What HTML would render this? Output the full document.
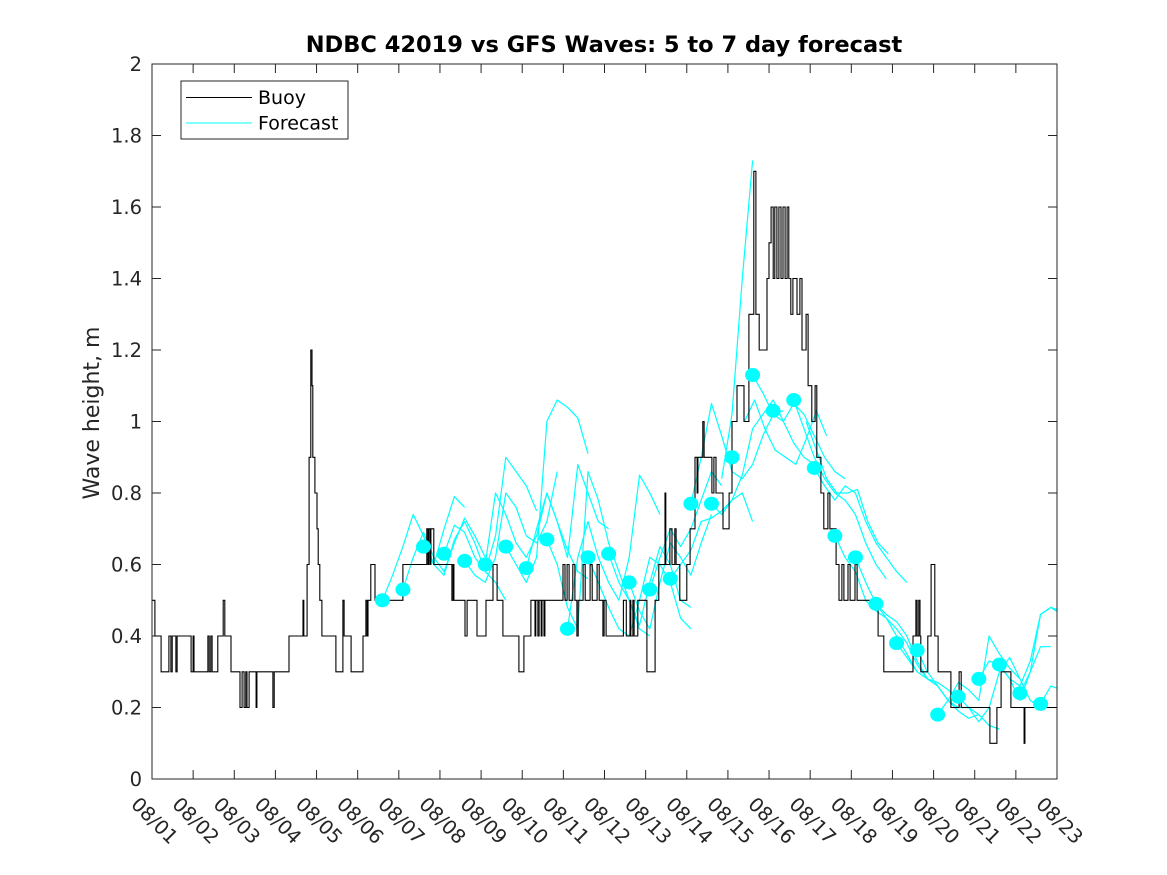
<!DOCTYPE html>
<html><head><meta charset="utf-8"><style>
html,body{margin:0;padding:0;background:#fff;}
svg{display:block;font-family:"DejaVu Sans","Liberation Sans",sans-serif;}
</style></head><body>
<svg id="chart" width="1167" height="875" viewBox="0 0 1167 875" xmlns="http://www.w3.org/2000/svg">
<defs><clipPath id="plotclip"><rect x="152" y="64" width="905" height="715"/></clipPath></defs>
<rect x="0" y="0" width="1167" height="875" fill="#fff"/>
<text x="604" y="52" text-anchor="middle" font-size="22.5" font-weight="bold" fill="#000">NDBC 42019 vs GFS Waves: 5 to 7 day forecast</text>
<text transform="translate(99,413) rotate(-90)" text-anchor="middle" font-size="22" fill="#262626">Wave height, m</text>
<g id="grid"></g>
<g id="series" clip-path="url(#plotclip)"></g>
<rect x="152" y="64" width="905" height="715" fill="none" stroke="#262626" stroke-width="1"/>
<g>
<rect x="181" y="81" width="167" height="58" fill="#fff" stroke="#262626" stroke-width="1"/>
<line x1="186" y1="97.5" x2="252" y2="97.5" stroke="#000" stroke-width="1"/>
<text x="258" y="104" font-size="19" fill="#000">Buoy</text>
<line x1="186" y1="123" x2="252" y2="123" stroke="#00ffff" stroke-width="1"/>
<text x="258" y="129.5" font-size="19" fill="#000">Forecast</text>
</g>
</svg>
<script>
const xTickLabels = ["08/01","08/02","08/03","08/04","08/05","08/06","08/07","08/08","08/09","08/10","08/11","08/12","08/13","08/14","08/15","08/16","08/17","08/18","08/19","08/20","08/21","08/22","08/23"];
const yTicks = [0,0.2,0.4,0.6,0.8,1,1.2,1.4,1.6,1.8,2];
const yTickLabels = ["0","0.2","0.4","0.6","0.8","1","1.2","1.4","1.6","1.8","2"];
// buoy step series: day since 08/01, value
const buoyDays = [0,0.07,0.22,0.41,0.46,0.49,0.58,0.61,0.95,1.00,1.02,1.36,1.39,1.43,1.46,1.60,1.73,1.77,1.92,2.14,2.19,2.24,2.28,2.31,2.36,2.53,2.55,2.94,2.97,3.33,3.67,3.69,3.77,3.82,3.86,3.89,3.91,3.96,4.01,4.04,4.08,4.13,4.47,4.64,4.67,4.84,5.13,5.20,5.23,5.25,5.32,5.42,6.10,6.68,6.71,6.73,6.76,6.78,6.85,7.29,7.32,7.34,7.61,7.66,7.90,8.12,8.29,8.39,8.53,8.92,9.04,9.21,9.31,9.33,9.38,9.41,9.46,9.48,9.53,9.55,9.99,10.04,10.09,10.14,10.23,10.28,10.33,10.36,10.48,10.53,10.65,10.70,10.82,10.87,10.96,10.99,11.04,11.46,11.53,11.62,11.64,11.69,11.72,11.81,12.03,12.23,12.32,12.47,12.49,12.59,12.64,12.71,12.74,12.83,13.00,13.08,13.20,13.25,13.27,13.39,13.42,13.61,13.66,13.71,13.88,14.03,14.10,14.22,14.39,14.51,14.63,14.68,14.76,14.95,15.00,15.05,15.10,15.14,15.19,15.24,15.29,15.34,15.39,15.44,15.48,15.53,15.58,15.68,15.75,15.80,15.90,15.95,16.04,16.12,16.16,16.26,16.33,16.43,16.48,16.63,16.70,16.77,16.82,16.92,16.97,17.09,17.14,17.65,17.79,18.50,18.57,18.60,18.64,18.67,18.69,18.86,18.94,19.03,19.11,19.42,19.62,19.67,20.37,20.54,20.64,20.88,21.20,21.22,22.0];
const buoyValues = [0.5,0.4,0.3,0.4,0.3,0.4,0.3,0.4,0.3,0.4,0.3,0.4,0.3,0.4,0.3,0.4,0.5,0.4,0.3,0.2,0.3,0.2,0.3,0.2,0.3,0.2,0.3,0.2,0.3,0.4,0.5,0.4,0.6,0.9,1.2,1.1,0.9,0.8,0.7,0.6,0.5,0.4,0.3,0.5,0.4,0.3,0.4,0.5,0.4,0.5,0.6,0.5,0.6,0.7,0.6,0.7,0.6,0.7,0.6,0.5,0.6,0.5,0.4,0.5,0.4,0.5,0.6,0.5,0.4,0.3,0.4,0.5,0.4,0.5,0.4,0.5,0.4,0.5,0.4,0.5,0.6,0.5,0.6,0.5,0.6,0.5,0.4,0.5,0.6,0.5,0.6,0.5,0.6,0.5,0.4,0.5,0.4,0.5,0.4,0.5,0.4,0.5,0.4,0.5,0.3,0.5,0.6,0.8,0.6,0.7,0.6,0.7,0.6,0.5,0.6,0.7,0.9,0.8,0.9,1.0,0.9,0.8,0.9,0.8,0.7,0.8,1.0,1.1,1.0,1.3,1.7,1.3,1.2,1.4,1.5,1.6,1.4,1.6,1.4,1.6,1.4,1.6,1.4,1.6,1.4,1.3,1.4,1.3,1.4,1.2,1.3,1.1,1.0,1.1,0.9,0.8,0.7,0.8,0.7,0.6,0.5,0.6,0.5,0.6,0.5,0.6,0.5,0.4,0.3,0.4,0.5,0.4,0.5,0.4,0.3,0.4,0.6,0.4,0.3,0.2,0.3,0.2,0.1,0.2,0.3,0.2,0.1,0.2,0.2];
// forecast dots (every 0.5 day starting at day 5.6)
const dotStart = 5.6;
const dotValues = [0.50,0.53,0.65,0.63,0.61,0.60,0.65,0.59,0.67,0.42,0.62,0.63,0.55,0.53,0.56,0.77,0.77,0.90,1.13,1.03,1.06,0.87,0.68,0.62,0.49,0.38,0.36,0.18,0.23,0.28,0.32,0.24,0.21];
// forecast lines: start day, values every 6 hours
const fcStarts = [5.6,6.1,6.6,7.1,7.6,8.1,8.6,9.1,9.6,10.1,10.6,11.1,11.6,12.1,12.6,13.1,13.6,13.85,14.6,14.4,15.6,16.1,15.9,16.6,17.1,17.6,18.1,18.6,19.1,19.6,20.1,20.6,21.1,21.6];
const fcValues = [
[0.50,0.57,0.65,0.74,0.68,0.60,0.70,0.79,0.76],
[0.53,0.62,0.69,0.62,0.58,0.66,0.73,0.68,0.62],
[0.65,0.60,0.57,0.67,0.72,0.66,0.58,0.55,0.50],
[0.63,0.71,0.69,0.62,0.58,0.68,0.90,0.86,0.82,0.75],
[0.61,0.57,0.55,0.62,0.80,0.76,0.68,0.66,0.72,0.86],
[0.60,0.80,0.74,0.66,0.62,0.68,0.80,0.72,0.64,0.58,0.56],
[0.65,0.60,0.55,0.62,1.00,1.06,1.04,1.01,0.91],
[0.59,0.70,0.80,0.72,0.62,0.88,0.80,0.72,0.70],
[0.67,0.60,0.48,0.42,0.86,0.78,0.66,0.58,0.50,0.42,0.40],
[0.42,0.62,0.72,0.62,0.55,0.50,0.62,0.85,0.80,0.74],
[0.62,0.55,0.48,0.42,0.40,0.50,0.62,0.60,0.55,0.45,0.42],
[0.63,0.55,0.50,0.43,0.55,0.65,0.60,0.50,0.48],
[0.55,0.47,0.42,0.55,0.66,0.62,0.57,0.66,0.74],
[0.53,0.62,0.70,0.65,0.70,0.78,0.86,0.82],
[0.56,0.60,0.64,0.72,0.73,0.75,0.78,0.80,0.72],
[0.77,0.90,1.05,0.96,0.86,0.84,0.88,0.96,1.02,1.03],
[0.77,0.74,0.78,0.85,0.98,1.02,1.06,1.00,0.94,0.90,0.88],
[0.84,1.02,1.40,1.73],
[1.13,1.08,1.02,1.00,1.05,1.02,0.96,0.90,0.86,0.84],
[1.00,1.06,0.98,0.92,0.90,0.88,0.95,1.03,0.96],
[1.06,0.98,0.90,0.84,0.80,0.78,0.74,0.66,0.60,0.56],
[0.87,0.82,0.78,0.82,0.80,0.72,0.66,0.62,0.58,0.55],
[1.00,0.92,0.84,0.80,0.80,0.81,0.72,0.66,0.63],
[0.68,0.62,0.58,0.50,0.47,0.45,0.40,0.35,0.30],
[0.62,0.55,0.49,0.46,0.44,0.40,0.33,0.28,0.26],
[0.49,0.45,0.42,0.38,0.32,0.28,0.27,0.25,0.22],
[0.38,0.34,0.30,0.28,0.26,0.22,0.19,0.17,0.18],
[0.36,0.30,0.26,0.22,0.20,0.20,0.18,0.15,0.14],
[0.18,0.22,0.27,0.25,0.22,0.40,0.35,0.31,0.28],
[0.23,0.20,0.16,0.20,0.30,0.34,0.28,0.22,0.20],
[0.28,0.33,0.32,0.28,0.26,0.33,0.46,0.48,0.47],
[0.32,0.28,0.22,0.30,0.46,0.48,0.46,0.44,0.33],
[0.24,0.30,0.37,0.37],
[0.21,0.26,0.25]
];
const NS = "http://www.w3.org/2000/svg";
const X0 = 152, X1 = 1057, Y0 = 779, Y1 = 64, DAYS = 22, VMAX = 2;
function xScale(d){ return X0 + d * (X1 - X0) / DAYS; }
function yScale(v){ return Y0 - v * (Y0 - Y1) / VMAX; }
function mk(tag, attrs, parent){ const e = document.createElementNS(NS, tag); for (const k in attrs) e.setAttribute(k, attrs[k]); parent.appendChild(e); return e; }
const grid = document.getElementById("grid");
const series = document.getElementById("series");
xTickLabels.forEach((lab, i) => {
  const x = xScale(i);
  const t1 = mk("line", {x1:x, y1:Y0, x2:x, y2:Y0-9, stroke:"#262626"}, grid);
  
  
  const t2 = mk("line", {x1:x, y1:Y1, x2:x, y2:Y1+9, stroke:"#262626"}, grid);
  
  
  const tx = mk("text", {transform:"translate(" + (x-22) + "," + (Y0+26.5) + ") rotate(45)", "font-size":"19.5", fill:"#262626"}, grid);
  tx.textContent = lab;
  
  
});
yTicks.forEach((v, i) => {
  const y = yScale(v);
  const t1 = mk("line", {x1:X0, y1:y, x2:X0+9, y2:y, stroke:"#262626"}, grid);
  
  
  const t2 = mk("line", {x1:X1, y1:y, x2:X1-9, y2:y, stroke:"#262626"}, grid);
  
  
  const tx = mk("text", {x:X0-10, y:y+7, "text-anchor":"end", "font-size":"19.5", fill:"#262626"}, grid);
  tx.textContent = yTickLabels[i];
  
  
});
fcValues.forEach((vals, j) => {
  const pts = vals.map((v, k) => xScale(fcStarts[j] + k*0.25).toFixed(1) + "," + yScale(v).toFixed(1)).join(" ");
  const pl = mk("polyline", {points:pts, fill:"none", stroke:"#00ffff", "stroke-width":"1.2", "stroke-linejoin":"round"}, series);
  
  
});
let d = "";
buoyDays.forEach((day, i) => {
  const x = xScale(day).toFixed(1);
  if (i === 0) d += "M" + x + "," + yScale(buoyValues[0]).toFixed(1);
  else d += " L" + x + "," + yScale(buoyValues[i-1]).toFixed(1) + " L" + x + "," + yScale(buoyValues[i]).toFixed(1);
});
const bp = mk("path", {d:d, fill:"none", stroke:"#000", "stroke-width":"1.1"}, series);


dotValues.forEach((v, k) => {
  const c = mk("ellipse", {cx:xScale(dotStart + k*0.5), cy:yScale(v), rx:7.5, ry:7, fill:"#00ffff"}, series);
  
  
});
</script>
</body></html>
